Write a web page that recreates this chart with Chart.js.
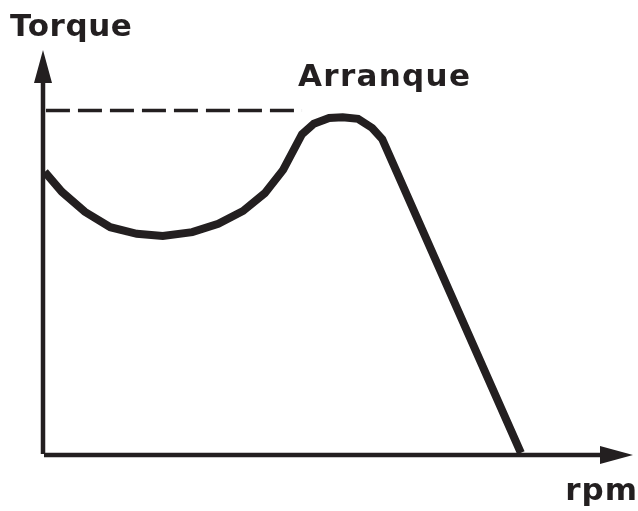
<!DOCTYPE html>
<html lang="es">
<head>
    <meta charset="UTF-8">
    <title>Torque / rpm</title>
    <script src="https://cdn.jsdelivr.net/npm/chart.js@4.4.1/dist/chart.umd.min.js"></script>
    <style>
        body {
            margin: 0;
            background: #ffffff;
        }
        #torqueChart {
            display: block;
        }
    </style>
</head>
<body>
    <canvas id="torqueChart" width="638" height="511"></canvas>
    <script>
        // curve (arbitrary units, axes 0..100)
        const rpm    = [0.3, 3.2, 7.1, 11.4, 15.9, 20.3, 25.3, 29.7, 33.9, 37.6, 40.7, 43.9, 45.9, 48.5, 50.8, 53.4, 55.8, 57.5, 81.0];
        const torque = [68.2, 63.4, 58.6, 54.9, 53.3, 52.8, 53.7, 55.7, 58.8, 63.1, 68.7, 77.3, 79.8, 81.2, 81.4, 81.0, 78.8, 76.1, 0.5];

        // dashed level of the starting torque
        const startRpm = [0.5, 43.9];
        const startTorque = [83.0, 83.0];

        // where the axis arrows end
        const xAxisEnd = 100;
        const yAxisEnd = 97.6;

        const labels = {
            y: 'Torque',
            peak: 'Arranque',
            x: 'rpm'
        };

        const ink = '#231f20';

        const toPoints = (xs, ys) => xs.map((x, i) => ({ x: x, y: ys[i] }));

        const axesPlugin = {
            id: 'arrowAxes',
            afterDraw(chart) {
                const ctx = chart.ctx;
                const xs = chart.scales.x;
                const ys = chart.scales.y;
                const x0 = xs.getPixelForValue(0);
                const y0 = ys.getPixelForValue(0);
                const xEnd = xs.getPixelForValue(xAxisEnd);
                const yEnd = ys.getPixelForValue(yAxisEnd);
                const headLen = 33;
                const headHalf = 9;

                ctx.save();
                ctx.strokeStyle = ink;
                ctx.fillStyle = ink;
                ctx.lineWidth = 4.5;
                ctx.lineCap = 'butt';

                ctx.beginPath();
                ctx.moveTo(x0, y0 - 1);
                ctx.lineTo(x0, yEnd + headLen - 1);
                ctx.stroke();

                ctx.beginPath();
                ctx.moveTo(x0 + 1, y0);
                ctx.lineTo(xEnd - headLen + 1, y0);
                ctx.stroke();

                ctx.beginPath();
                ctx.moveTo(x0, yEnd);
                ctx.lineTo(x0 - headHalf, yEnd + headLen);
                ctx.lineTo(x0 + headHalf, yEnd + headLen);
                ctx.closePath();
                ctx.fill();

                ctx.beginPath();
                ctx.moveTo(xEnd, y0);
                ctx.lineTo(xEnd - headLen, y0 - headHalf);
                ctx.lineTo(xEnd - headLen, y0 + headHalf);
                ctx.closePath();
                ctx.fill();

                ctx.font = 'bold 31px "DejaVu Sans"';
                ctx.textBaseline = 'alphabetic';
                ctx.textAlign = 'left';
                ctx.letterSpacing = '0.6px';
                ctx.fillText(labels.y, 10, 36);
                ctx.letterSpacing = '1.3px';
                ctx.fillText(labels.peak, 298, 86);
                ctx.letterSpacing = '1px';
                ctx.textAlign = 'right';
                ctx.fillText(labels.x, 638, 500);
                ctx.restore();
            }
        };

        const chart = new Chart(document.getElementById('torqueChart'), {
            type: 'line',
            data: {
                datasets: [
                    {
                        label: 'Torque',
                        data: toPoints(rpm, torque),
                        borderColor: ink,
                        borderWidth: 8,
                        tension: 0,
                        pointRadius: 0,
                        borderJoinStyle: 'miter',
                        clip: false
                    },
                    {
                        label: 'Arranque',
                        data: toPoints(startRpm, startTorque),
                        borderColor: ink,
                        borderWidth: 3.5,
                        borderDash: [24, 8],
                        pointRadius: 0,
                        clip: false
                    }
                ]
            },
            options: {
                responsive: false,
                animation: false,
                devicePixelRatio: 1,
                layout: {
                    padding: { left: 43, right: 5, top: 40, bottom: 56 }
                },
                scales: {
                    x: { type: 'linear', min: 0, max: 100, display: false },
                    y: { type: 'linear', min: 0, max: 100, display: false }
                },
                plugins: {
                    legend: { display: false },
                    tooltip: { enabled: false }
                }
            },
            plugins: [axesPlugin]
        });
    </script>
</body>
</html>
